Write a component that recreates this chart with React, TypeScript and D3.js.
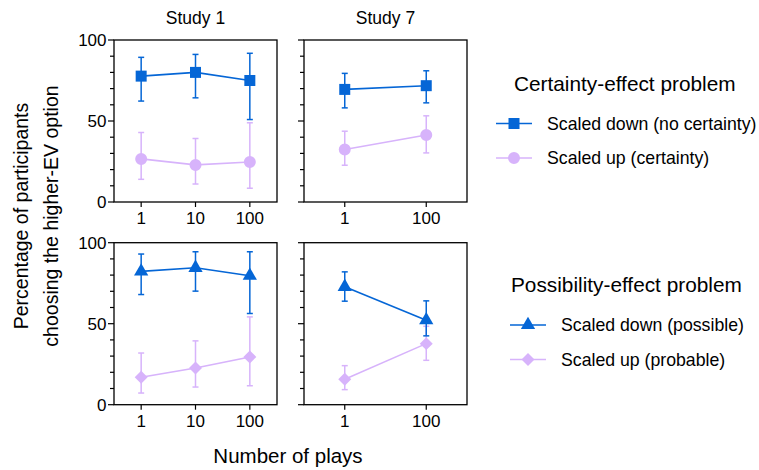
import React, { useEffect, useRef } from 'react';
import * as d3 from 'd3';

const studies = ['Study 1', 'Study 7'];
const plays1 = ['1', '10', '100'];
const plays7 = ['1', '100'];
const yTicks = [0, 10, 20, 30, 40, 50, 60, 70, 80, 90, 100];
const yLabels = [0, 50, 100];

// certainty-effect problem
const certDown1 = [77.7, 80, 75];
const certDown1Lo = [62.3, 64.3, 50.9];
const certDown1Hi = [89.3, 91.1, 91.8];
const certUp1 = [26.6, 22.9, 24.7];
const certUp1Lo = [14, 11.1, 8.5];
const certUp1Hi = [42.9, 39.2, 48.9];
const certDown7 = [69.5, 71.8];
const certDown7Lo = [58.1, 61.2];
const certDown7Hi = [79.4, 81];
const certUp7 = [32.4, 41.4];
const certUp7Lo = [22.7, 30.3];
const certUp7Hi = [43.7, 53.2];

// possibility-effect problem
const possDown1 = [82.3, 84.5, 79.6];
const possDown1Lo = [68, 70.1, 56.3];
const possDown1Hi = [93, 94.4, 94.4];
const possUp1 = [16.9, 22.7, 29.5];
const possUp1Lo = [7.2, 10.9, 11.7];
const possUp1Hi = [31.9, 39.4, 54.2];
const possDown7 = [72.8, 52.2];
const possDown7Lo = [63.9, 42.5];
const possDown7Hi = [82, 64.1];
const possUp7 = [15.7, 37.7];
const possUp7Lo = [9.3, 27.4];
const possUp7Hi = [24.1, 48.4];

const legendTitles = ['Certainty-effect problem', 'Possibility-effect problem'];
const legendLabels = [
  ['Scaled down (no certainty)', 'Scaled up (certainty)'],
  ['Scaled down (possible)', 'Scaled up (probable)'],
];

const BLUE = '#0566d6';
const LAV = '#d7b3fb';
const FONT = "'Liberation Sans', Arial, Helvetica, sans-serif";

// wide diamond (rotated square), d3's own diamond is too narrow
const symbolRhomb = {
  draw(ctx, size) {
    const r = Math.sqrt(size / 2);
    ctx.moveTo(0, -r);
    ctx.lineTo(r, 0);
    ctx.lineTo(0, r);
    ctx.lineTo(-r, 0);
    ctx.closePath();
  },
};

function zip(cats, mean, lo, hi) {
  return cats.map((c, i) => ({ cat: c, v: mean[i], lo: lo[i], hi: hi[i] }));
}

const rows = [
  {
    symbols: [d3.symbolSquare, d3.symbolCircle],
    sizes: [121, 113],
    panels: [
      { cats: plays1, series: [zip(plays1, certDown1, certDown1Lo, certDown1Hi), zip(plays1, certUp1, certUp1Lo, certUp1Hi)] },
      { cats: plays7, series: [zip(plays7, certDown7, certDown7Lo, certDown7Hi), zip(plays7, certUp7, certUp7Lo, certUp7Hi)] },
    ],
  },
  {
    symbols: [d3.symbolTriangle, symbolRhomb],
    sizes: [88, 84],
    panels: [
      { cats: plays1, series: [zip(plays1, possDown1, possDown1Lo, possDown1Hi), zip(plays1, possUp1, possUp1Lo, possUp1Hi)] },
      { cats: plays7, series: [zip(plays7, possDown7, possDown7Lo, possDown7Hi), zip(plays7, possUp7, possUp7Lo, possUp7Hi)] },
    ],
  },
];

export default function App() {
  const ref = useRef(null);

  useEffect(() => {
    const svg = d3.select(ref.current);
    svg.selectAll('*').remove();

    const colX = [114, 304];
    const rowY = [40, 242.7];
    const pw = 163;
    const ph = 162;
    const colors = [BLUE, LAV];

    const yScale = d3.scaleLinear().domain([0, 100]);

    rows.forEach((row, ri) => {
      row.panels.forEach((panel, ci) => {
        const g = svg.append('g').attr('transform', `translate(${colX[ci]},${rowY[ri]})`);
        const x = d3.scalePoint().domain(panel.cats).range([0, pw]).padding(0.5);
        const y = yScale.copy().range([ph, 0]);

        // y ticks
        g.selectAll('line.yt')
          .data(yTicks)
          .enter()
          .append('line')
          .attr('x1', (d) => (yLabels.includes(d) ? -6 : -4))
          .attr('x2', 0)
          .attr('y1', (d) => y(d))
          .attr('y2', (d) => y(d))
          .attr('stroke', '#000')
          .attr('stroke-width', 1.2);

        if (ci === 0) {
          g.selectAll('text.yl')
            .data(yLabels)
            .enter()
            .append('text')
            .attr('x', -7.5)
            .attr('y', (d) => y(d))
            .attr('dy', '0.35em')
            .attr('text-anchor', 'end')
            .attr('font-size', 17)
            .attr('font-family', FONT)
            .text((d) => d);
        }

        // x ticks
        g.selectAll('line.xt')
          .data(panel.cats)
          .enter()
          .append('line')
          .attr('x1', (d) => x(d))
          .attr('x2', (d) => x(d))
          .attr('y1', ph)
          .attr('y2', ph + 5)
          .attr('stroke', '#000')
          .attr('stroke-width', 1.2);

        g.selectAll('text.xl')
          .data(panel.cats)
          .enter()
          .append('text')
          .attr('x', (d) => x(d))
          .attr('y', ph + 22)
          .attr('text-anchor', 'middle')
          .attr('font-size', 17)
          .attr('font-family', FONT)
          .text((d) => d);

        g.append('rect')
          .attr('width', pw)
          .attr('height', ph)
          .attr('fill', 'none')
          .attr('stroke', '#000')
          .attr('stroke-width', 1.3);

        if (ri === 0) {
          g.append('text')
            .attr('x', pw / 2)
            .attr('y', -16)
            .attr('text-anchor', 'middle')
            .attr('font-size', 17.5)
            .attr('font-family', FONT)
            .text(studies[ci]);
        }

        // draw lavender first so blue sits on top
        [1, 0].forEach((si) => {
          const data = panel.series[si];
          const color = colors[si];
          const sg = g.append('g');

          sg.selectAll('line.err')
            .data(data)
            .enter()
            .append('line')
            .attr('x1', (d) => x(d.cat))
            .attr('x2', (d) => x(d.cat))
            .attr('y1', (d) => y(d.lo))
            .attr('y2', (d) => y(d.hi))
            .attr('stroke', color)
            .attr('stroke-width', 1.5);

          const caps = data.flatMap((d) => [
            { cat: d.cat, v: d.lo },
            { cat: d.cat, v: d.hi },
          ]);
          sg.selectAll('line.cap')
            .data(caps)
            .enter()
            .append('line')
            .attr('x1', (d) => x(d.cat) - 3)
            .attr('x2', (d) => x(d.cat) + 3)
            .attr('y1', (d) => y(d.v))
            .attr('y2', (d) => y(d.v))
            .attr('stroke', color)
            .attr('stroke-width', 1.5);

          sg.append('path')
            .datum(data)
            .attr('fill', 'none')
            .attr('stroke', color)
            .attr('stroke-width', 1.6)
            .attr('d', d3.line().x((d) => x(d.cat)).y((d) => y(d.v)));

          sg.selectAll('path.pt')
            .data(data)
            .enter()
            .append('path')
            .attr('transform', (d) => `translate(${x(d.cat)},${y(d.v)})`)
            .attr('fill', color)
            .attr('d', d3.symbol().type(row.symbols[si]).size(row.sizes[si]));
        });
      });

      // legend
      const lx = ri === 0 ? 496 : 510;
      const ly = ri === 0 ? 90.5 : 292;
      const lg = svg.append('g');
      lg.append('text')
        .attr('x', ri === 0 ? 514 : 511)
        .attr('y', ly)
        .attr('font-size', 20.8)
        .attr('font-family', FONT)
        .text(legendTitles[ri]);

      legendLabels[ri].forEach((lab, si) => {
        const cy = ly + 33 + si * 34.5;
        lg.append('line')
          .attr('x1', lx)
          .attr('x2', lx + 36)
          .attr('y1', cy)
          .attr('y2', cy)
          .attr('stroke', colors[si])
          .attr('stroke-width', 1.6);
        lg.append('path')
          .attr('transform', `translate(${lx + 18},${cy})`)
          .attr('fill', colors[si])
          .attr('d', d3.symbol().type(row.symbols[si]).size(row.sizes[si]));
        lg.append('text')
          .attr('x', lx + 51)
          .attr('y', cy)
          .attr('dy', '0.35em')
          .attr('font-size', 17.7)
          .attr('font-family', FONT)
          .text(lab);
      });
    });

    // axis titles
    const yt = svg.append('text')
      .attr('transform', 'translate(28,216) rotate(-90)')
      .attr('text-anchor', 'middle')
      .attr('font-size', 19.5)
      .attr('font-family', FONT);
    yt.append('tspan').attr('x', 0).attr('y', 0).text('Percentage of participants');
    yt.append('tspan').attr('x', 0).attr('y', 29.5).text('choosing the higher-EV option');

    svg.append('text')
      .attr('x', 288)
      .attr('y', 463)
      .attr('text-anchor', 'middle')
      .attr('font-size', 20.5)
      .attr('font-family', FONT)
      .text('Number of plays');
  }, []);

  return (
    <svg
      ref={ref}
      width={759}
      height={470}
      style={{ position: 'absolute', left: 0, top: 0, background: '#fff' }}
    />
  );
}
